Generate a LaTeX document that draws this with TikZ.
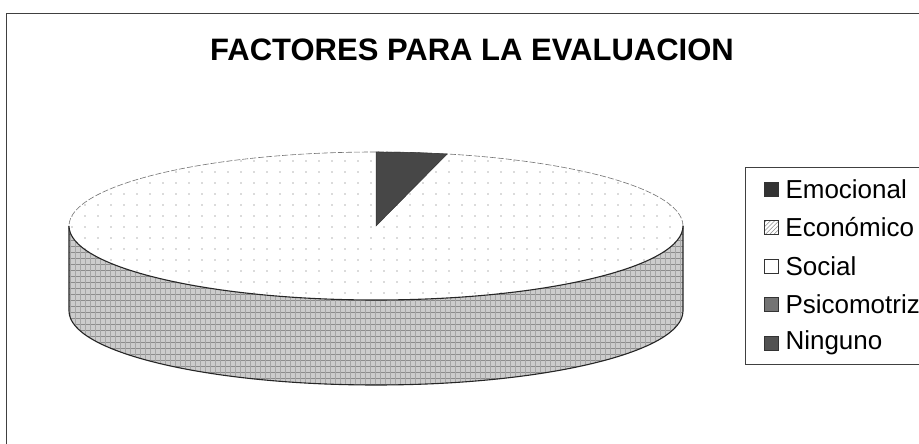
\documentclass[tikz,border=0pt]{standalone}
\usepackage{fontspec}
\setmainfont{Liberation Sans}
\usetikzlibrary{positioning,patterns.meta}

\tikzset{
  legkey/.style={draw=black!80, line width=0.6pt, minimum size=14pt, inner sep=0pt},
  legtext/.style={inner sep=0pt, font=\fontsize{26}{26}\selectfont},
}

\begin{document}
\begin{tikzpicture}[x=1pt, y=1pt]

\def\cx{376}; % pie centre
\def\cy{218};
\def\rx{307}; % radii of the top
\def\ry{74};
\def\dd{85}; % depth of the pie

\clip (0,0) rectangle (919,444);
\fill[white] (0,0) rectangle (919,444);

% frame
\draw[black!75, line width=0.8pt] (6,-10) -- (6,431) -- (930,431);

\node (title) at (472,394) {\fontsize{31}{31}\selectfont\bfseries FACTORES PARA LA EVALUACION};

% side of the pie
\def\sidepath{(\cx-\rx,\cy) -- (\cx-\rx,\cy-\dd) arc[start angle=180, end angle=360, x radius=\rx, y radius=\ry] -- (\cx+\rx,\cy) arc[start angle=0, end angle=-180, x radius=\rx, y radius=\ry] -- cycle}
\fill[black!20] \sidepath;
\fill[pattern={Lines[distance=6pt, angle=0, line width=0.8pt]}, pattern color=black!45] \sidepath;
\fill[pattern={Lines[distance=5pt, angle=90, line width=0.7pt]}, pattern color=black!35] \sidepath;
\draw[black!85, line width=1.1pt] (\cx-\rx,\cy) -- (\cx-\rx,\cy-\dd) arc[start angle=180, end angle=360, x radius=\rx, y radius=\ry] -- (\cx+\rx,\cy);

% top of the pie
\fill[white] (\cx,\cy) ellipse [x radius=\rx, y radius=\ry];
\begin{scope}
\clip (\cx,\cy) ellipse [x radius=\rx, y radius=\ry];
\foreach \i in {0,...,47} {
  \foreach \j in {0,...,14} {
    \fill[black!28] (72+13*\i, 140+11*\j) circle (0.9pt);
  }
}
\end{scope}
\draw[black!55, line width=0.6pt, dash pattern=on 6pt off 2pt] (\cx+\rx,\cy) arc[start angle=0, end angle=180, x radius=\rx, y radius=\ry];
\draw[black!85, line width=1.1pt] (\cx-\rx,\cy) arc[start angle=180, end angle=360, x radius=\rx, y radius=\ry];

% dark slice
\filldraw[fill=black!72, draw=black!80, line width=0.5pt] (\cx,\cy) -- (\cx,\cy+\ry) arc[start angle=90, end angle=76.6, x radius=\rx, y radius=\ry] -- cycle;

% legend
\draw[black!75, line width=0.8pt] (745,277) rectangle (940,80);

\node[legkey, fill=black!80] (kemo) at (771,255) {};
\node[legkey, fill=black!25, pattern={Lines[distance=3pt, angle=45, line width=0.5pt]}, pattern color=black!45] (keco) at (771,216.5) {};
\node[legkey, fill=white] (ksoc) at (771,178) {};
\node[legkey, fill=black!55] (kpsi) at (771,139.5) {};
\node[legkey, fill=black!68] (knin) at (771,101) {};

\node[legtext, right=7pt of kemo] (temo) {Emocional};
\node[legtext, right=7pt of keco] (teco) {Económico};
\node[legtext, right=7pt of ksoc] (tsoc) {Social};
\node[legtext, right=7pt of kpsi] (tpsi) {Psicomotriz};
\node[legtext, right=7pt of knin] (tnin) {Ninguno};

\end{tikzpicture}
\end{document}
